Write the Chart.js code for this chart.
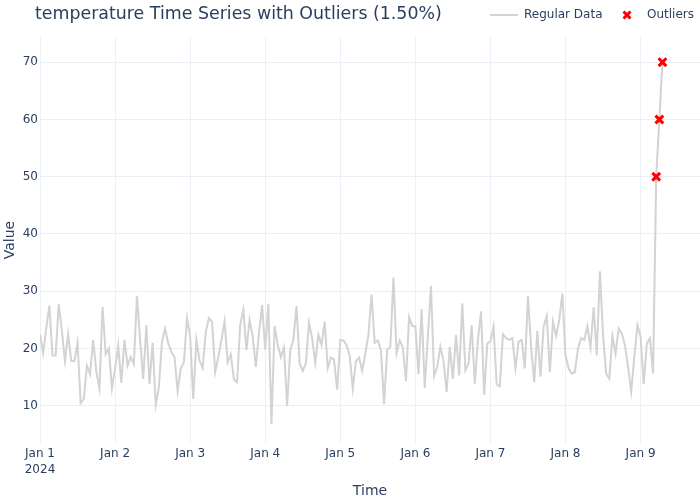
<!DOCTYPE html>
<html>
<head>
<meta charset="utf-8">
<script src="https://cdn.jsdelivr.net/npm/chart.js@4.4.1/dist/chart.umd.min.js"></script>
<style>
  html, body { margin: 0; padding: 0; background: #fff; }
</style>
</head>
<body>
<canvas id="myChart" width="700" height="500"></canvas>
<script>
// hourly readings, hour 0 = Jan 1 2024 00:00
const temperature = [
  22.5, 19.2, 23.5, 27.5, 18.8, 18.8, 27.8, 23.0, 17.8, 22.5,
  17.8, 17.8, 21.0, 10.5, 11.2, 17.0, 15.5, 21.5, 16.0, 13.0,
  27.3, 19.0, 20.0, 13.0, 16.5, 20.5, 14.0, 21.5, 17.0, 18.5,
  17.3, 29.2, 21.5, 14.7, 24.1, 13.8, 21.0, 10.2, 13.2, 21.2,
  23.5, 20.9, 19.4, 18.5, 12.6, 16.5, 17.6, 25.3, 22.1, 11.2,
  21.5, 17.9, 16.6, 22.9, 25.3, 24.7, 15.9, 18.5, 21.5, 24.8,
  17.6, 19.0, 14.6, 14.1, 24.1, 26.8, 19.7, 25.0, 22.1, 16.8,
  22.6, 27.6, 19.8, 27.8, 6.8, 23.9, 20.6, 18.5, 20.2, 10.0,
  19.7, 21.5, 27.4, 17.4, 16.1, 17.4, 24.5, 21.8, 17.5, 22.4,
  20.6, 24.7, 16.6, 18.4, 18.1, 12.8, 21.5, 21.4, 20.6, 18.8,
  13.0, 17.8, 18.4, 16.1, 19.1, 22.4, 29.4, 21.0, 21.4, 19.7,
  10.3, 19.8, 20.3, 32.4, 19.2, 21.4, 20.2, 14.3, 25.5, 23.9,
  23.9, 15.5, 26.9, 13.1, 22.0, 30.9, 15.2, 16.8, 20.3, 17.9,
  12.4, 20.3, 14.7, 22.4, 15.3, 27.9, 16.2, 17.4, 24.1, 13.8,
  21.5, 26.5, 11.9, 20.9, 21.2, 23.8, 13.7, 13.4, 22.5, 21.8,
  21.5, 21.8, 16.6, 21.2, 21.5, 16.5, 29.2, 20.3, 14.1, 23.1,
  15.1, 23.8, 25.7, 15.9, 24.7, 22.2, 25.0, 29.6, 18.8, 16.5,
  15.6, 15.9, 20.0, 21.8, 21.5, 23.9, 20.2, 27.2, 18.8, 33.5,
  22.4, 15.6, 14.7, 22.2, 19.1, 23.5, 22.6, 20.6, 16.8, 12.5,
  18.5, 24.1, 22.1, 13.8, 20.9, 21.8, 15.6, 50, 60, 70
];
const outlierHours = [197, 198, 199];
const outlierValues = [50, 60, 70];

const dayTicks = [0, 24, 48, 72, 96, 120, 144, 168, 192];
const dayLabels = [['Jan 1', '2024'], 'Jan 2', 'Jan 3', 'Jan 4', 'Jan 5', 'Jan 6', 'Jan 7', 'Jan 8', 'Jan 9'];
const yTicks = [10, 20, 30, 40, 50, 60, 70];

const titleText = 'temperature Time Series with Outliers (1.50%)';
const textColor = '#2a3f5f';
const gridColor = '#ebf0f8';
const fontFamily = "'DejaVu Sans', verdana, arial, sans-serif";

Chart.defaults.font.family = fontFamily;
Chart.defaults.font.size = 12;
Chart.defaults.color = textColor;

// title + legend sit on one row above the plot, so draw them here
const headerPlugin = {
  id: 'header',
  afterDraw(chart) {
    const ctx = chart.ctx;
    ctx.save();
    ctx.fillStyle = textColor;
    ctx.textBaseline = 'middle';
    ctx.font = '17.4px ' + fontFamily;
    ctx.fillText(titleText, 35, 14);

    ctx.strokeStyle = '#d3d3d3';
    ctx.lineWidth = 2;
    ctx.beginPath();
    ctx.moveTo(490, 15);
    ctx.lineTo(518, 15);
    ctx.stroke();

    ctx.font = '12px ' + fontFamily;
    ctx.fillText('Regular Data', 524, 15);

    ctx.strokeStyle = 'red';
    ctx.lineWidth = 3;
    ctx.beginPath();
    ctx.moveTo(623.5, 11.5);
    ctx.lineTo(630.5, 18.5);
    ctx.moveTo(630.5, 11.5);
    ctx.lineTo(623.5, 18.5);
    ctx.stroke();

    ctx.fillText('Outliers', 647, 15);
    ctx.restore();
  }
};

const config = {
  type: 'line',
  data: {
    datasets: [
      {
        label: 'Regular Data',
        data: temperature.map((v, i) => ({ x: i, y: v })),
        borderColor: '#d3d3d3',
        borderWidth: 2,
        pointRadius: 0,
        tension: 0,
        order: 2,
      },
      {
        label: 'Outliers',
        type: 'scatter',
        data: outlierHours.map((h, i) => ({ x: h, y: outlierValues[i] })),
        pointStyle: 'crossRot',
        pointRadius: 5.5,
        pointBorderWidth: 3,
        borderColor: 'red',
        backgroundColor: 'red',
        order: 1,
      },
    ],
  },
  options: {
    responsive: false,
    animation: false,
    layout: {
      autoPadding: false,
      padding: { top: 37, right: 0, bottom: 0, left: 0 },
    },
    plugins: {
      legend: { display: false },
      title: { display: false },
      tooltip: { enabled: false },
    },
    scales: {
      x: {
        type: 'linear',
        min: 0,
        max: 211,
        afterBuildTicks: (scale) => {
          scale.ticks = dayTicks.map((v) => ({ value: v }));
        },
        afterFit: (scale) => {
          scale.height = 57;
        },
        ticks: {
          autoSkip: false,
          maxRotation: 0,
          padding: 2,
          font: { size: 12, lineHeight: 1.4 },
          callback: (value) => dayLabels[dayTicks.indexOf(value)],
        },
        grid: { color: gridColor, drawTicks: false },
        border: { display: false },
        title: {
          display: true,
          text: 'Time',
          font: { size: 14 },
          padding: { top: 0, bottom: 0 },
        },
      },
      y: {
        min: 3.5,
        max: 74.4,
        afterBuildTicks: (scale) => {
          scale.ticks = yTicks.map((v) => ({ value: v }));
        },
        afterFit: (scale) => {
          scale.width = 40;
        },
        ticks: {
          padding: 2,
          font: { size: 12 },
        },
        grid: { color: gridColor, drawTicks: false },
        border: { display: false },
        title: {
          display: true,
          text: 'Value',
          font: { size: 14 },
          padding: { top: 2, bottom: 0 },
        },
      },
    },
  },
  plugins: [headerPlugin],
};

new Chart(document.getElementById('myChart'), config);
</script>
</body>
</html>
